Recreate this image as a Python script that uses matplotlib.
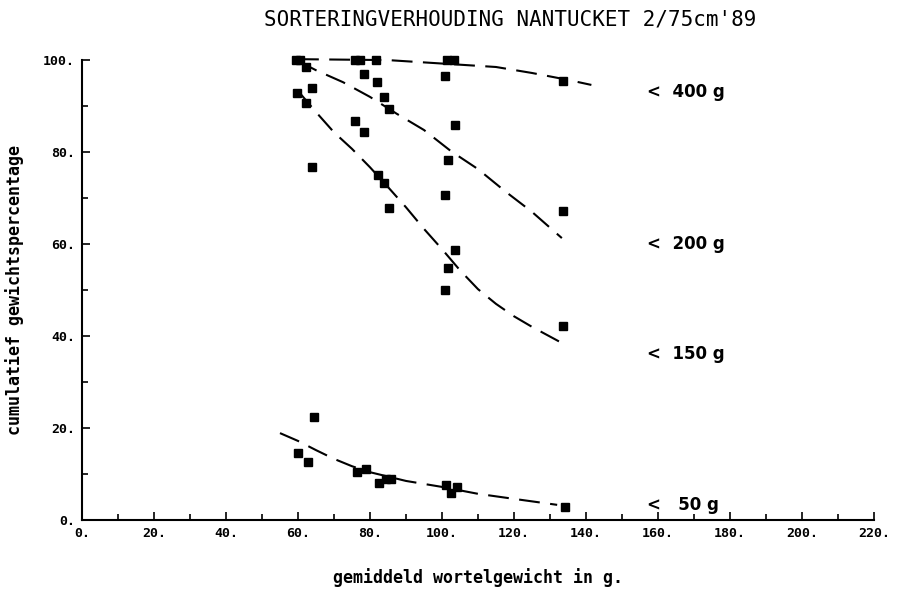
import numpy as np
import matplotlib
matplotlib.use("Agg")
import matplotlib.pyplot as plt
from matplotlib.ticker import MultipleLocator, FuncFormatter

# measured points per size class (x = mean root weight, y = cumulative %)
x_400 = [59.4, 60.6, 75.8, 77.2, 78.3, 81.7, 101.4, 103.3, 100.8, 133.6]
y_400 = [100, 100, 100, 100, 97.0, 100, 100, 100, 96.5, 95.4]

x_200 = [62.2, 64.0, 81.9, 83.9, 85.3, 75.8, 78.3, 103.6, 101.7, 100.8, 133.6]
y_200 = [98.5, 93.9, 95.2, 92.0, 89.3, 86.7, 84.3, 85.9, 78.3, 70.7, 67.2]

x_150 = [59.7, 62.2, 63.9, 82.2, 83.9, 85.3, 103.6, 101.7, 100.8, 133.6]
y_150 = [92.8, 90.7, 76.7, 75.0, 73.3, 67.8, 58.7, 54.8, 50.0, 42.2]

x_50 = [64.4, 60.0, 62.8, 76.4, 78.9, 82.5, 84.4, 85.8, 101.1, 102.5, 104.2, 134.2]
y_50 = [22.4, 14.6, 12.6, 10.4, 11.1, 8.0, 8.9, 8.9, 7.6, 5.9, 7.2, 2.8]

# fitted curves
cx_400 = [60, 85, 95, 105, 115, 125, 135, 141.5]
cy_400 = [100.2, 100.0, 99.5, 99.0, 98.5, 97.2, 95.7, 94.6]

cx_200 = [60, 65, 72.5, 80, 87.5, 95, 102.5, 110, 117.5, 125, 133.3]
cy_200 = [99.8, 97.8, 95.2, 92.0, 88.3, 84.8, 80.2, 76.3, 71.5, 67.0, 61.3]

cx_150 = [60, 65, 70, 75, 80, 85, 90, 95, 100, 105, 110, 115, 120, 125, 133.3]
cy_150 = [93.3, 88.7, 84.3, 80.7, 76.7, 72.4, 68.0, 63.3, 58.9, 54.3, 50.2,
          47.0, 44.3, 42.0, 38.5]

cx_50 = [55, 60, 65, 70, 75, 80, 90, 100, 110, 120, 132]
cy_50 = [18.9, 17.2, 15.2, 13.3, 11.7, 10.4, 8.5, 7.2, 5.7, 4.6, 3.3]

class_labels = ['<  400 g', '<  200 g', '<  150 g', '<   50 g']
label_y = [93, 60, 36, 3.3]

mono = 'DejaVu Sans Mono'

fig = plt.figure(figsize=(9.01, 5.95), dpi=100)
ax = fig.add_axes([0.091, 0.126, 0.879, 0.773])
ax.set_xlim(0, 220)
ax.set_ylim(0, 100)

# Dashed fit curves
for cx, cy in [(cx_400, cy_400), (cx_200, cy_200), (cx_150, cy_150), (cx_50, cy_50)]:
    ax.plot(cx, cy, color='black', lw=1.5, dashes=(10, 5), clip_on=False)

# Data points
for xs, ys in [(x_400, y_400), (x_200, y_200), (x_150, y_150), (x_50, y_50)]:
    ax.plot(xs, ys, 's', color='black', ms=6, clip_on=False, zorder=5)

# Class labels on the right
for lab, yy in zip(class_labels, label_y):
    ax.text(157, yy, lab, fontsize=12, fontweight='bold', family='DejaVu Sans',
            va='center', ha='left')

# Axes styling
for side in ['top', 'right']:
    ax.spines[side].set_visible(False)
for side in ['left', 'bottom']:
    ax.spines[side].set_linewidth(1.5)

ax.xaxis.set_major_locator(MultipleLocator(20))
ax.xaxis.set_minor_locator(MultipleLocator(10))
ax.yaxis.set_major_locator(MultipleLocator(20))
ax.yaxis.set_minor_locator(MultipleLocator(10))
fmt = FuncFormatter(lambda v, p: f"{int(round(v))}.")
ax.xaxis.set_major_formatter(fmt)
ax.yaxis.set_major_formatter(fmt)
ax.tick_params(which='major', direction='in', length=6, width=1.2, pad=5,
               labelsize=9.5)
ax.tick_params(which='minor', direction='in', length=4, width=1.2)
for lbl in ax.get_xticklabels() + ax.get_yticklabels():
    lbl.set_family(mono)
    lbl.set_fontweight('bold')

ax.set_xlabel('gemiddeld wortelgewicht in g.', family=mono, fontweight='bold',
              fontsize=12, labelpad=20)
ax.set_ylabel('cumulatief gewichtspercentage', family=mono, fontweight='bold',
              fontsize=12, labelpad=14)
fig.text(0.566, 0.968, "SORTERINGVERHOUDING NANTUCKET 2/75cm'89", family=mono,
         fontsize=15, ha='center', va='center')

fig.savefig('out.png', dpi=100)
